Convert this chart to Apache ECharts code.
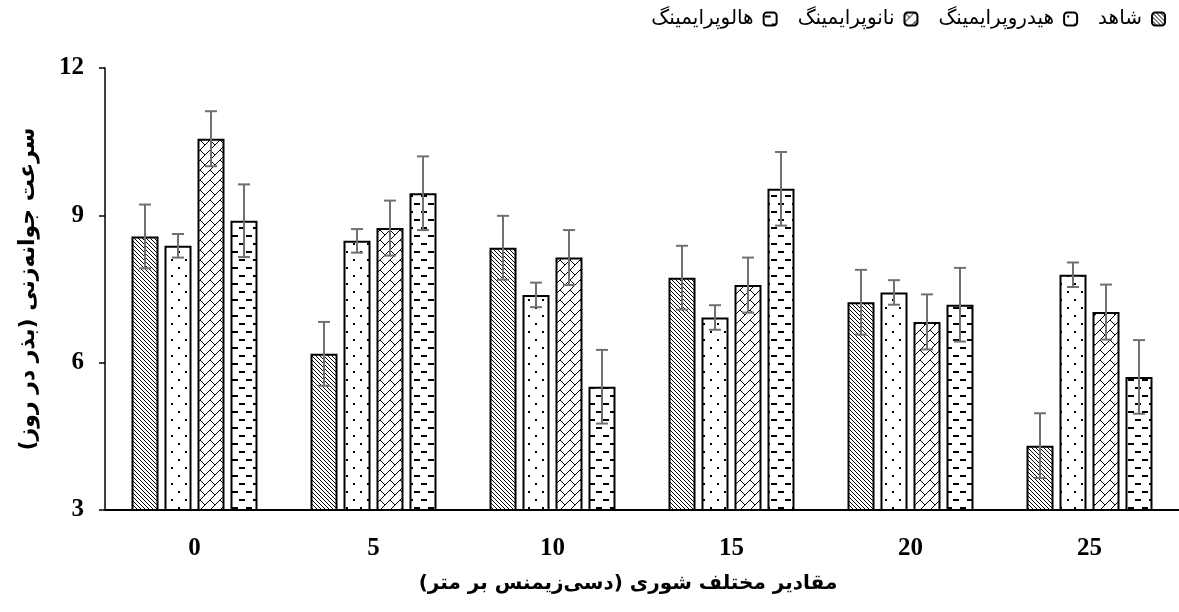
<!DOCTYPE html>
<html>
<head>
<meta charset="utf-8">
<script src="https://cdn.jsdelivr.net/npm/echarts@6/dist/echarts.min.js"></script>
<style>
html,body{margin:0;padding:0;background:#fff;}
#chart{width:1179px;height:612px;}
</style>
</head>
<body>
<div id="chart" dir="rtl"></div>
<script>
// ---- data ----
var categories = ['0', '5', '10', '15', '20', '25'];
var seriesNames = ['شاهد', 'هیدروپرایمینگ', 'نانوپرایمینگ', 'هالوپرایمینگ'];
var controlVals = [8.57, 6.18, 8.34, 7.73, 7.23, 4.31];
var controlErr  = [0.65, 0.65, 0.65, 0.65, 0.66, 0.66];
var hydroVals   = [8.38, 8.48, 7.38, 6.92, 7.43, 7.79];
var hydroErr    = [0.24, 0.24, 0.25, 0.25, 0.25, 0.25];
var nanoVals    = [10.56, 8.74, 8.14, 7.58, 6.83, 7.03];
var nanoErr     = [0.56, 0.56, 0.56, 0.56, 0.56, 0.56];
var haloVals    = [8.89, 9.45, 5.51, 9.54, 7.18, 5.71];
var haloErr     = [0.74, 0.75, 0.75, 0.75, 0.75, 0.75];
var yTicks = [3, 6, 9, 12];
var xAxisName = 'مقادیر مختلف شوری (دسی‌زیمنس بر متر)';
var yAxisName = 'سرعت جوانه‌زنی (بذر در روز)';

// ---- patterns ----
function tile(w, h, draw) {
  var c = document.createElement('canvas');
  c.width = w; c.height = h;
  var g = c.getContext('2d');
  g.fillStyle = '#fff'; g.fillRect(0, 0, w, h);
  g.fillStyle = '#000';
  draw(g);
  return {image: c, repeat: 'repeat'};
}
var patControl = tile(4, 4, function (g) {
  for (var i = 0; i < 4; i++) g.fillRect(i, i, 1, 1);
});
var patHydro = tile(14, 16, function (g) {
  g.fillRect(3, 3, 2, 2);
  g.fillRect(10, 11, 2, 2);
});
var patNano = tile(10, 10, function (g) {
  for (var i = 0; i < 10; i++) g.fillRect(i, 9 - i, 1, 1);
  for (var j = 0; j < 5; j++) g.fillRect(j, j, 1, 1);
});
var patHalo = tile(14, 16, function (g) {
  g.fillRect(1, 3, 6, 2);
  g.fillRect(8, 11, 6, 2);
});
var patterns = [patControl, patHydro, patNano, patHalo];
var vals = [controlVals, hydroVals, nanoVals, haloVals];
var errs = [controlErr, hydroErr, nanoErr, haloErr];

var BAR_W = 27, STEP = 33;

var chart = echarts.init(document.getElementById('chart'), null, {renderer: 'canvas'});

var series = [];
seriesNames.forEach(function (name, i) {
  series.push({
    name: name,
    type: 'bar',
    data: vals[i],
    barWidth: BAR_W,
    barGap: '22.2%',
    itemStyle: {color: patterns[i], borderColor: '#000', borderWidth: 2},
    z: 2
  });
});
seriesNames.forEach(function (name, i) {
  var data = vals[i].map(function (v, k) { return [k, v, errs[i][k]]; });
  series.push({
    type: 'custom',
    name: name + '_err',
    z: 5,
    data: data,
    renderItem: function (params, api) {
      var k = api.value(0), v = api.value(1), e = api.value(2);
      var c = api.coord([k, v]);
      var x = c[0] + (i - 1.5) * STEP;
      var top = api.coord([k, v + e])[1];
      var bot = api.coord([k, v - e])[1];
      var cap = 6;
      var st = {stroke: '#707070', lineWidth: 2};
      return {
        type: 'group',
        children: [
          {type: 'line', shape: {x1: x, y1: top, x2: x, y2: bot}, style: st},
          {type: 'line', shape: {x1: x - cap, y1: top, x2: x + cap, y2: top}, style: st},
          {type: 'line', shape: {x1: x - cap, y1: bot, x2: x + cap, y2: bot}, style: st}
        ]
      };
    }
  });
});

var option = {
  animation: false,
  backgroundColor: '#fff',
  legend: {
    data: seriesNames.slice().reverse(),
    align: 'right',
    right: 8,
    top: 4,
    itemWidth: 13,
    itemHeight: 13,
    itemGap: 20,
    textStyle: {fontFamily: 'DejaVu Sans', fontSize: 20, color: '#000', padding: [0, 5, 0, 5]}
  },
  grid: {left: 105, right: -4, top: 68, bottom: 102},
  xAxis: {
    type: 'category',
    data: categories,
    axisLine: {lineStyle: {color: '#000', width: 2}},
    axisTick: {show: false},
    axisLabel: {color: '#000', fontFamily: 'Liberation Serif', fontWeight: 'bold', fontSize: 25, margin: 26},
    name: xAxisName,
    nameLocation: 'middle',
    nameGap: 64,
    nameTextStyle: {color: '#000', fontFamily: 'DejaVu Sans', fontWeight: 'bold', fontSize: 20, padding: [0, 28, 0, 0]}
  },
  yAxis: {
    type: 'value',
    min: yTicks[0],
    max: yTicks[yTicks.length - 1],
    interval: 3,
    splitLine: {show: false},
    axisLine: {show: true, lineStyle: {color: '#000', width: 1.5}},
    axisTick: {show: true, length: 6, lineStyle: {color: '#000', width: 1.5}},
    axisLabel: {color: '#000', fontFamily: 'Liberation Serif', fontWeight: 'bold', fontSize: 25, margin: 21},
    name: yAxisName,
    nameLocation: 'middle',
    nameGap: 66,
    nameTextStyle: {color: '#000', fontFamily: 'DejaVu Sans', fontWeight: 'bold', fontSize: 22}
  },
  series: series
};
chart.setOption(option);
</script>
</body>
</html>
